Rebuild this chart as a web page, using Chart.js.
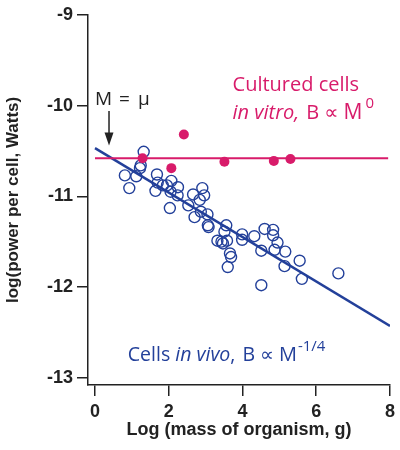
<!DOCTYPE html>
<html><head><meta charset="utf-8">
<script src="https://cdn.jsdelivr.net/npm/chart.js@4.4.0/dist/chart.umd.min.js"></script>
<style>html,body{margin:0;padding:0;background:#fff}#wrap{width:400px;height:450px}</style>
</head><body><div id="wrap"><canvas id="c" width="400" height="450"></canvas></div>
<script>
// ---- data ----
const xTicks = [0, 2, 4, 6, 8];
const yTicks = [-13, -12, -11, -10, -9];
const vivoX = [1.32,1.24,1.22,0.81,1.12,0.93,1.68,1.70,1.64,1.84,1.95,2.07,2.05,2.24,2.25,2.03,2.53,2.66,2.91,2.96,2.84,2.87,2.70,3.05,3.06,3.08,3.56,3.51,3.32,3.43,3.58,3.47,3.66,3.69,3.60,3.99,3.99,4.32,4.60,4.83,4.83,4.95,4.51,4.87,5.16,5.14,5.55,5.61,4.51,6.60];
const vivoY = [-10.51,-10.66,-10.69,-10.77,-10.78,-10.91,-10.76,-10.85,-10.94,-10.88,-10.88,-10.83,-10.95,-10.99,-10.90,-11.13,-11.10,-10.98,-10.91,-10.99,-11.04,-11.17,-11.23,-11.20,-11.32,-11.34,-11.32,-11.39,-11.49,-11.50,-11.49,-11.52,-11.63,-11.67,-11.78,-11.42,-11.48,-11.44,-11.36,-11.37,-11.43,-11.51,-11.60,-11.59,-11.61,-11.77,-11.71,-11.91,-11.98,-11.85];
const vitroX = [1.29, 2.07, 2.41, 3.51, 4.85, 5.30];
const vitroY = [-10.58, -10.69, -10.32, -10.62, -10.61, -10.59];
const fitX = [0, 8];
const fitY = [-10.47, -12.43];
const vitroLineX = [0, 7.95];
const vitroLineY = [-10.58, -10.58];

const BLUE = '#23409a';
const PINK = '#d81b6a';
const DARK = '#222222';
const zip = (xs, ys) => xs.map((v, i) => ({x: v, y: ys[i]}));

function drawRuns(ctx, runs, x0, yMid) {
  let x = x0;
  for (const r of runs) {
    x += r.gap || 0;
    ctx.font = r.font;
    ctx.fillStyle = r.color;
    ctx.textBaseline = 'middle';
    ctx.textAlign = 'left';
    ctx.fillText(r.t, x, yMid + (r.dy || 0));
    x += ctx.measureText(r.t).width;
  }
}

const annot = {
  id: 'annot',
  afterDatasetsDraw(chart) {
    const {ctx, scales: {x, y}} = chart;
    ctx.save();
    const F = '"Open Sans", "DejaVu Sans", sans-serif';
    // M = mu label and arrow
    drawRuns(ctx, [
      {t: 'M', font: `19px ${F}`, color: DARK},
      {t: '=', font: `19px ${F}`, color: DARK, gap: 7},
      {t: '\u03bc', font: `19px ${F}`, color: DARK, gap: 8}
    ], x.getPixelForValue(0), y.getPixelForValue(-9.94));
    const ax = x.getPixelForValue(0.38);
    const ay1 = y.getPixelForValue(-10.06), ay2 = y.getPixelForValue(-10.44);
    ctx.strokeStyle = DARK; ctx.lineWidth = 1.5;
    ctx.beginPath(); ctx.moveTo(ax, ay1); ctx.lineTo(ax, ay2 - 10); ctx.stroke();
    ctx.fillStyle = DARK;
    ctx.beginPath(); ctx.moveTo(ax - 4.5, ay2 - 13); ctx.lineTo(ax + 4.5, ay2 - 13); ctx.lineTo(ax, ay2); ctx.closePath(); ctx.fill();
    // in vitro label
    const px = x.getPixelForValue(3.73);
    drawRuns(ctx, [{t: 'Cultured cells', font: `20px ${F}`, color: PINK}], px, y.getPixelForValue(-9.777));
    drawRuns(ctx, [
      {t: 'in vitro,', font: `italic 20px ${F}`, color: PINK},
      {t: 'B', font: `20px ${F}`, color: PINK, gap: 7},
      {t: '\u221d', font: `20px ${F}`, color: PINK, gap: 5},
      {t: 'M', font: `21px ${F}`, color: PINK, gap: 5},
      {t: '0', font: `15px ${F}`, color: PINK, gap: 3, dy: -9}
    ], px, y.getPixelForValue(-10.082));
    // in vivo label
    drawRuns(ctx, [
      {t: 'Cells ', font: `19.5px ${F}`, color: BLUE},
      {t: 'in vivo', font: `italic 19.5px ${F}`, color: BLUE},
      {t: ',', font: `19.5px ${F}`, color: BLUE},
      {t: 'B', font: `19.5px ${F}`, color: BLUE, gap: 7},
      {t: '\u221d', font: `19.5px ${F}`, color: BLUE, gap: 5},
      {t: 'M', font: `20px ${F}`, color: BLUE, gap: 5},
      {t: '-1/4', font: `15px ${F}`, color: BLUE, gap: 1, dy: -9}
    ], x.getPixelForValue(0.89), y.getPixelForValue(-12.752));
    ctx.restore();
  }
};

const FAM = '"Liberation Sans", Arial, Helvetica, sans-serif';
const tickFont = {family: FAM, size: 18, weight: 'bold'};

new Chart(document.getElementById('c'), {
  type: 'scatter',
  data: {
    datasets: [
      {label: 'in vitro', data: zip(vitroX, vitroY), pointRadius: 5, pointBackgroundColor: PINK, pointBorderColor: PINK, borderWidth: 0, order: 0},
      {label: 'in vitro line', data: zip(vitroLineX, vitroLineY), showLine: true, pointRadius: 0, borderColor: PINK, borderWidth: 2, order: 1},
      {label: 'in vivo', data: zip(vivoX, vivoY), pointRadius: 5.5, pointBackgroundColor: 'rgba(0,0,0,0)', pointBorderColor: BLUE, pointBorderWidth: 1.4, order: 2},
      {label: 'fit', data: zip(fitX, fitY), showLine: true, pointRadius: 0, borderColor: BLUE, borderWidth: 2.5, order: 3}
    ]
  },
  options: {
    responsive: false,
    animation: false,
    devicePixelRatio: 1,
    layout: {padding: {top: 12, right: 8, left: 0, bottom: 0}},
    plugins: {legend: {display: false}, tooltip: {enabled: false}},
    scales: {
      x: {
        type: 'linear', min: -0.19, max: 8,
        afterBuildTicks(s) { s.ticks = xTicks.map(v => ({value: v})); },
        afterFit(s) { s.height = 65; },
        grid: {drawOnChartArea: false, drawTicks: true, tickLength: 11, color: DARK, lineWidth: 1.5},
        border: {display: true, color: DARK, width: 1.5},
        ticks: {color: DARK, font: tickFont, padding: 5, maxRotation: 0, callback: v => String(v)},
        title: {display: true, text: 'Log (mass of organism, g)', color: DARK, font: {family: FAM, size: 18, weight: 'bold'}, padding: {top: 0, bottom: 9}}
      },
      y: {
        type: 'linear', min: -13.08, max: -9,
        afterBuildTicks(s) { s.ticks = yTicks.map(v => ({value: v})); },
        afterFit(s) { s.width = 88; },
        grid: {drawOnChartArea: false, drawTicks: true, tickLength: 11, color: DARK, lineWidth: 1.5},
        border: {display: true, color: DARK, width: 1.5},
        ticks: {color: DARK, font: tickFont, padding: 4, callback: v => String(v)},
        title: {display: true, text: 'log(power per cell, Watts)', color: DARK, font: {family: FAM, size: 17, weight: 'bold'}, padding: {top: 3, bottom: 0}}
      }
    }
  },
  plugins: [annot]
});
</script>
</body></html>
